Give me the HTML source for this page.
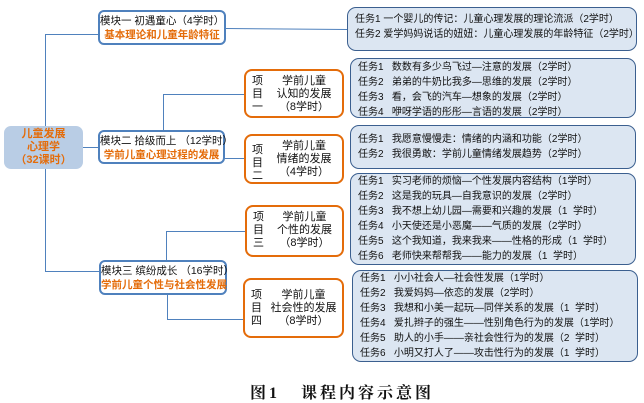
<!DOCTYPE html>
<html><head><meta charset="utf-8"><style>
body{margin:0;width:644px;height:402px;background:#fff;position:relative;overflow:hidden;font-family:"Liberation Sans","Noto Sans CJK SC",sans-serif;}
.a{position:absolute;box-sizing:border-box;}
.root{left:4px;top:126px;width:79px;height:43px;background:#b9cde5;border-radius:7px;color:#e46c0a;font-size:11px;font-weight:bold;text-align:center;line-height:13px;padding-top:2px;}
.mod{border:2px solid #4f81bd;border-radius:6px;background:#fff;font-size:10.5px;text-align:center;line-height:14px;color:#111;padding-top:2px;white-space:nowrap;}
.mod span{color:#e46c0a;font-weight:bold;}
.proj{border:2px solid #e46c0a;border-radius:8px;background:#fff;font-size:11px;color:#111;}
.proj .l{position:absolute;left:6px;top:4px;width:12px;line-height:13px;}
.proj .r{position:absolute;left:20px;right:0;text-align:center;line-height:13px;top:4px;}
.task{border:1.3px solid #3b5f8f;border-radius:9px;background:#dce6f2;font-size:10px;color:#111;line-height:15px;padding:4px 0 0 7px;white-space:pre;}
.h{position:absolute;height:0;border-top:1.3px solid #4f81bd;}
.v{position:absolute;width:0;border-left:1.3px solid #4f81bd;}
.cap{left:250px;top:380px;font-family:"Liberation Serif","Noto Serif CJK SC",serif;font-weight:bold;font-size:16px;letter-spacing:3px;color:#111;white-space:pre;}
</style></head><body>
<div class="v" style="left:45px;top:34px;height:237px"></div>
<div class="h" style="left:45px;top:34px;width:53px"></div>
<div class="h" style="left:45px;top:271px;width:54px"></div>
<div class="h" style="left:83px;top:147px;width:15px"></div>
<div class="h" style="left:226px;top:28px;width:121px;transform:rotate(0.5deg);transform-origin:left"></div>
<div class="v" style="left:163px;top:94px;height:36px"></div>
<div class="h" style="left:163px;top:94px;width:81px"></div>
<div class="h" style="left:225px;top:158px;width:19px"></div>
<div class="v" style="left:166px;top:231px;height:29px"></div>
<div class="h" style="left:166px;top:231px;width:79px"></div>
<div class="v" style="left:167px;top:295px;height:24px"></div>
<div class="h" style="left:167px;top:319px;width:76px"></div>

<div class="a root">儿童发展<br>心理学<br>（32课时）</div>
<div class="a mod" style="left:98px;top:10px;width:128px;height:35px">模块一 初遇童心（4学时）<br><span>基本理论和儿童年龄特征</span></div>
<div class="a mod" style="left:98px;top:130px;width:127px;height:34px">模块二 拾级而上 （12学时）<br><span>学前儿童心理过程的发展</span></div>
<div class="a mod" style="left:99px;top:260px;width:128px;height:35px">模块三 缤纷成长 （16学时）<br><span>学前儿童个性与社会性发展</span></div>

<div class="a proj" style="left:244px;top:69px;width:100px;height:49px"><div class="l">项<br>目<br>一</div><div class="r">学前儿童<br>认知的发展<br>（8学时）</div></div>
<div class="a proj" style="left:244px;top:134px;width:100px;height:50px"><div class="l" style="top:8px">项<br>目<br>二</div><div class="r">学前儿童<br>情绪的发展<br>（4学时）</div></div>
<div class="a proj" style="left:245px;top:205px;width:99px;height:52px"><div class="l">项<br>目<br>三</div><div class="r">学前儿童<br>个性的发展<br>（8学时）</div></div>
<div class="a proj" style="left:243px;top:278px;width:101px;height:60px"><div class="l" style="top:9px">项<br>目<br>四</div><div class="r" style="top:9px">学前儿童<br>社会性的发展<br>（8学时）</div></div>

<div class="a task" style="left:347px;top:7px;width:290px;height:44px">任务1 一个婴儿的传记：儿童心理发展的理论流派（2学时）<br>任务2 爱学妈妈说话的妞妞：儿童心理发展的年龄特征（2学时）</div>
<div class="a task" style="left:350px;top:58px;width:286px;height:60px;padding-top:1px">任务1   数数有多少鸟飞过—注意的发展（2学时）<br>任务2   弟弟的牛奶比我多—思维的发展（2学时）<br>任务3   看，会飞的汽车—想象的发展（2学时）<br>任务4   咿呀学语的彤彤—言语的发展（2学时）</div>
<div class="a task" style="left:350px;top:125px;width:286px;height:44px;padding-top:6px">任务1   我愿意慢慢走：情绪的内涵和功能（2学时）<br>任务2   我很勇敢：学前儿童情绪发展趋势（2学时）</div>
<div class="a task" style="left:350px;top:173px;width:286px;height:92px;padding-top:0">任务1   实习老师的烦恼—个性发展内容结构（1学时）<br>任务2   这是我的玩具—自我意识的发展（2学时）<br>任务3   我不想上幼儿园—需要和兴趣的发展（1  学时）<br>任务4   小天使还是小恶魔——气质的发展（2学时）<br>任务5   这个我知道，我来我来——性格的形成（1  学时）<br>任务6   老师快来帮帮我——能力的发展（1  学时）</div>
<div class="a task" style="left:352px;top:270px;width:286px;height:92px;padding-top:0">任务1   小小社会人—社会性发展（1学时）<br>任务2   我爱妈妈—依恋的发展（2学时）<br>任务3   我想和小美一起玩—同伴关系的发展（1  学时）<br>任务4   爱扎辫子的强生——性别角色行为的发展（1学时）<br>任务5   助人的小手——亲社会性行为的发展（2  学时）<br>任务6   小明又打人了——攻击性行为的发展（1  学时）</div>

<div class="a cap">图1   课程内容示意图</div>
</body></html>
